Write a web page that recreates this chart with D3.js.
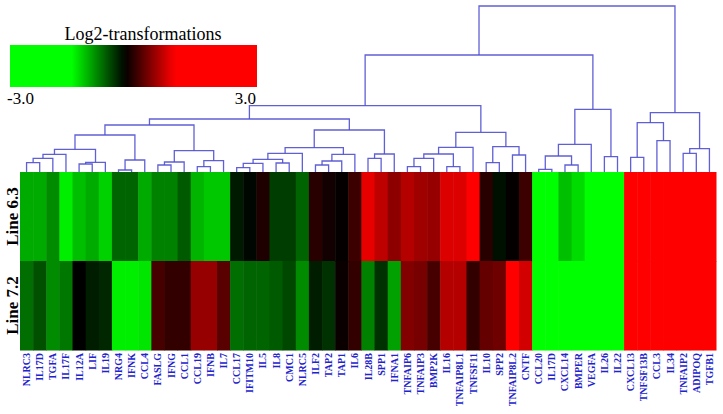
<!DOCTYPE html>
<html>
<head>
<meta charset="utf-8">
<script src="https://cdn.jsdelivr.net/npm/d3@7"></script>
<style>
  body { margin: 0; background: #fff; }
  svg { display: block; }
</style>
</head>
<body>
<svg id="chart"></svg>
<script>
// genes, in dendrogram order
const genes = ["NLRC3","IL17D","TGFA","IL17F","IL12A","LIF","IL19","NRG4","IFNK","CCL4",
  "FASLG","IFNG","CCL1","CCL19","IFNB","IL7","CCL17","IFITM10","IL5","IL8",
  "CMC1","NLRC5","ILF2","TAP2","TAP1","IL6","IL28B","SPP1","IFNA1","TNFAIP6",
  "TNFAIP3","BMP2K","IL16","TNFAIP8L1","TNFSF11","IL10","SPP2","TNFAIP8L2","CNTF","CCL20",
  "IL17D","CXCL14","BMPER","VEGFA","IL26","IL22","CXCL13","TNFSF13B","CCL3","IL34",
  "TNFAIP2","ADIPOQ","TGFB1"];

const lines = ["Line 6.3", "Line 7.2"];

// log2 values per line
const line63 = [-1.07,-1.07,-0.91,-1.42,-1.17,-1.07,-1.27,-0.71,-0.71,-1.07,
  -0.86,-0.86,-0.66,-1.12,-1.22,-1.22,-0.33,-0.23,-0.06,-0.51,
  -0.51,-0.71,-0.01,-0.11,-0.18,0.08,0.88,0.69,0.46,0.65,
  0.55,0.51,0.84,0.84,1.3,-0.01,-0.28,-0.18,0.08,-2.1,
  -1.8,-1.17,-1.32,-1.9,-1.7,-2.0,1.8,2.2,1.5,1.9,
  2.4,1.6,2.0];
const line72 = [-0.76,-0.61,-0.91,-0.81,-0.2,-0.35,-0.4,-1.42,-1.42,-1.37,
  0.13,0.04,0.04,0.51,0.51,0.22,-0.76,-0.71,-0.71,-0.66,
  -0.56,-0.91,-0.35,-0.45,-0.15,0.04,-0.86,-0.45,-1.02,0.41,
  0.36,0.13,0.65,0.65,0.04,0.27,0.32,1.3,0.79,-2.2,
  -1.9,-2.4,-2.0,-1.8,-2.1,-2.3,2.1,1.7,2.3,2.0,
  1.6,2.5,1.9];

// linkage: [left, right, distance]; ids >= genes.length refer to earlier merges
const merges = [
  [0,1,9.3],[53,2,13.7],[54,3,17.7],[4,5,8],[56,6,9.7],[55,57,22.7],[7,8,2],[59,9,12],
  [58,60,37],[10,11,7],[62,12,10],[13,14,5.3],[64,15,11.3],[63,65,21.3],[61,66,47],
  [16,17,4.3],[68,18,8.7],[19,20,9],[69,70,12.7],[71,21,18.7],[22,23,7],[73,24,11],
  [74,25,17.7],[72,75,24.3],[26,27,13.7],[77,28,18],[76,78,42],[67,79,53],
  [29,30,5.3],[81,31,13.7],[32,33,5.3],[82,83,18],[84,34,24.7],[35,36,9.3],[37,38,17],
  [86,87,25.3],[85,88,39.7],[80,89,66.3],
  [39,40,2.7],[41,42,7],[91,92,16],[93,43,27.7],[44,45,15.3],[94,95,62.7],[90,96,117],
  [46,47,14.7],[48,49,31.3],[98,99,49.3],[50,51,18.7],[101,52,23.3],[100,102,59.3],
  [97,103,166]
];

const legendTicks = [-3, 3];

const width = 723;
const height = 414;
const heat = { left: 20, right: 716, top: 172, bottom: 350 };
const serif = "'Liberation Serif', 'Times New Roman', Times, serif";

const svg = d3.select("#chart").attr("width", width).attr("height", height);

// colour scale: green - black - red
const color = d3.scaleLinear()
  .domain([-3, -1.5, -0.2, 1.0, 3])
  .range(["#00ff00", "#00ff00", "#000000", "#ff0000", "#ff0000"])
  .clamp(true);

const x = d3.scaleBand()
  .domain(d3.range(genes.length))
  .range([heat.left, heat.right]);

const y = d3.scaleBand()
  .domain(lines)
  .range([heat.top, heat.bottom]);

// heatmap cells
const cells = [];
[line63, line72].forEach((vals, r) => {
  vals.forEach((v, i) => cells.push({ row: lines[r], col: i, value: v }));
});

svg.append("g")
  .selectAll("rect")
  .data(cells)
  .enter()
  .append("rect")
  .attr("x", d => x(d.col))
  .attr("y", d => y(d.row))
  .attr("width", x.bandwidth() + 0.5)
  .attr("height", y.bandwidth() + 0.5)
  .attr("fill", d => color(d.value));

// row labels
svg.append("g")
  .selectAll("text")
  .data(lines)
  .enter()
  .append("text")
  .attr("transform", d => `translate(12,${y(d) + y.bandwidth() / 2}) rotate(-90)`)
  .attr("text-anchor", "middle")
  .attr("dy", "0.35em")
  .style("font-family", serif)
  .style("font-weight", "bold")
  .style("font-size", "17px")
  .text(d => d);

// gene labels
svg.append("g")
  .selectAll("text")
  .data(genes)
  .enter()
  .append("text")
  .attr("transform", (d, i) => `translate(${x(i) + x.bandwidth() / 2},353) rotate(-90)`)
  .attr("text-anchor", "end")
  .attr("dy", "0.35em")
  .style("font-family", serif)
  .style("font-weight", "bold")
  .style("font-size", "10px")
  .style("fill", "#2222cc")
  .text(d => d);

// dendrogram
const n = genes.length;
const hy = d3.scaleLinear()
  .domain([0, d3.max(merges, m => m[2])])
  .range([heat.top, 6]);

const nodes = d3.range(n).map(i => ({ x: x(i) + x.bandwidth() / 2, h: 0 }));
merges.forEach(m => {
  const a = nodes[m[0]], b = nodes[m[1]];
  nodes.push({ x: (a.x + b.x) / 2, h: m[2], a, b });
});

svg.append("g")
  .selectAll("path")
  .data(nodes.slice(n))
  .enter()
  .append("path")
  .attr("d", d => `M${d.a.x},${hy(d.a.h)}V${hy(d.h)}H${d.b.x}V${hy(d.b.h)}`)
  .attr("fill", "none")
  .attr("stroke", "#4f4fd2")
  .attr("stroke-opacity", 0.9)
  .attr("stroke-width", 1.3);

// legend
const lg = { x: 10, y: 45, w: 247, h: 42 };
const legendX = d3.scaleLinear().domain(legendTicks).range([lg.x, lg.x + lg.w]);
const fmt = d3.formatLocale({ decimal: ".", thousands: ",", grouping: [3], currency: ["", ""], minus: "-" }).format(".1f");

const grad = svg.append("defs")
  .append("linearGradient")
  .attr("id", "lg-grad");

grad.selectAll("stop")
  .data(d3.range(0, 1.0001, 0.025))
  .enter()
  .append("stop")
  .attr("offset", t => t)
  .attr("stop-color", t => color(legendX.invert(lg.x + t * lg.w)));

svg.append("rect")
  .attr("x", lg.x)
  .attr("y", lg.y)
  .attr("width", lg.w)
  .attr("height", lg.h)
  .attr("fill", "url(#lg-grad)");

svg.append("text")
  .attr("x", 143)
  .attr("y", 40)
  .attr("text-anchor", "middle")
  .style("font-family", serif)
  .style("font-size", "18px")
  .text("Log2-transformations");

svg.append("g")
  .selectAll("text")
  .data(legendTicks)
  .enter()
  .append("text")
  .attr("x", d => legendX(d))
  .attr("y", 104)
  .attr("text-anchor", (d, i) => i === 0 ? "start" : "end")
  .attr("dx", (d, i) => i === 0 ? -3 : -1)
  .style("font-family", serif)
  .style("font-size", "17px")
  .text(d => fmt(d));
</script>
</body>
</html>
